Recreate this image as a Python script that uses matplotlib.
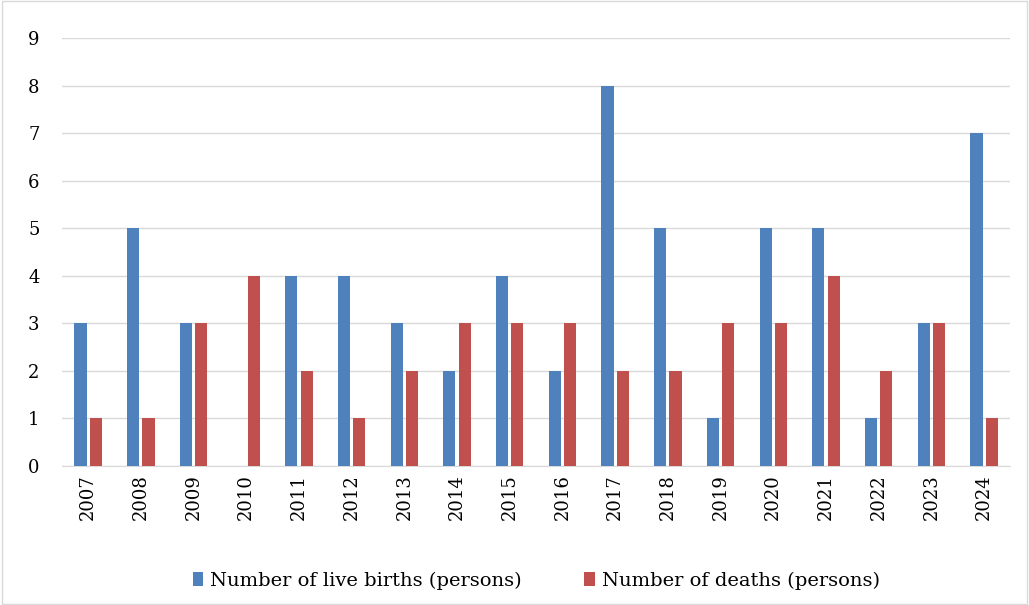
import numpy as np
import matplotlib
matplotlib.use("Agg")
import matplotlib.pyplot as plt
from matplotlib.patches import Rectangle

years = [str(y) for y in range(2007, 2025)]
births = [3, 5, 3, 0, 4, 4, 3, 2, 4, 2, 8, 5, 1, 5, 5, 1, 3, 7]
deaths = [1, 1, 3, 4, 2, 1, 2, 3, 3, 3, 2, 2, 3, 3, 4, 2, 3, 1]

plt.rcParams.update({
    "font.family": ["DejaVu Serif"],
    "font.size": 13,
})

fig = plt.figure(figsize=(10.29, 6.05), dpi=100)
ax = fig.add_axes([0.060, 0.2298, 0.922, 0.7074])

x = np.arange(len(years))
w = 0.23
ax.bar(x - 0.145, births, width=w, color="#4F81BD", label="Number of live births (persons)", zorder=3)
ax.bar(x + 0.145, deaths, width=w, color="#C0504D", label="Number of deaths (persons)", zorder=3)

ax.set_xlim(-0.5, len(years) - 0.5)
ax.set_ylim(0, 9)
ax.set_yticks(range(10))
ax.set_xticks(x)
ax.set_xticklabels(years, rotation=90)
ax.yaxis.grid(True, color="#D9D9D9", linewidth=1.0, zorder=0)
ax.tick_params(axis="y", length=0, pad=16, labelsize=13)
ax.tick_params(axis="x", length=0, pad=6, labelsize=13)
for s in ["top", "right", "left"]:
    ax.spines[s].set_visible(False)
ax.spines["bottom"].set_color("#D9D9D9")

ax.legend(loc="lower center", bbox_to_anchor=(0.5, -0.33), ncol=2, frameon=False,
          handlelength=0.55, handleheight=0.8, columnspacing=3.2, handletextpad=0.35,
          fontsize=14)

fig.patches.append(Rectangle((0.002, 0.002), 0.996, 0.996, transform=fig.transFigure,
                             fill=False, edgecolor="#D9D9D9", linewidth=1.0))

fig.savefig("out.png", dpi=100)
